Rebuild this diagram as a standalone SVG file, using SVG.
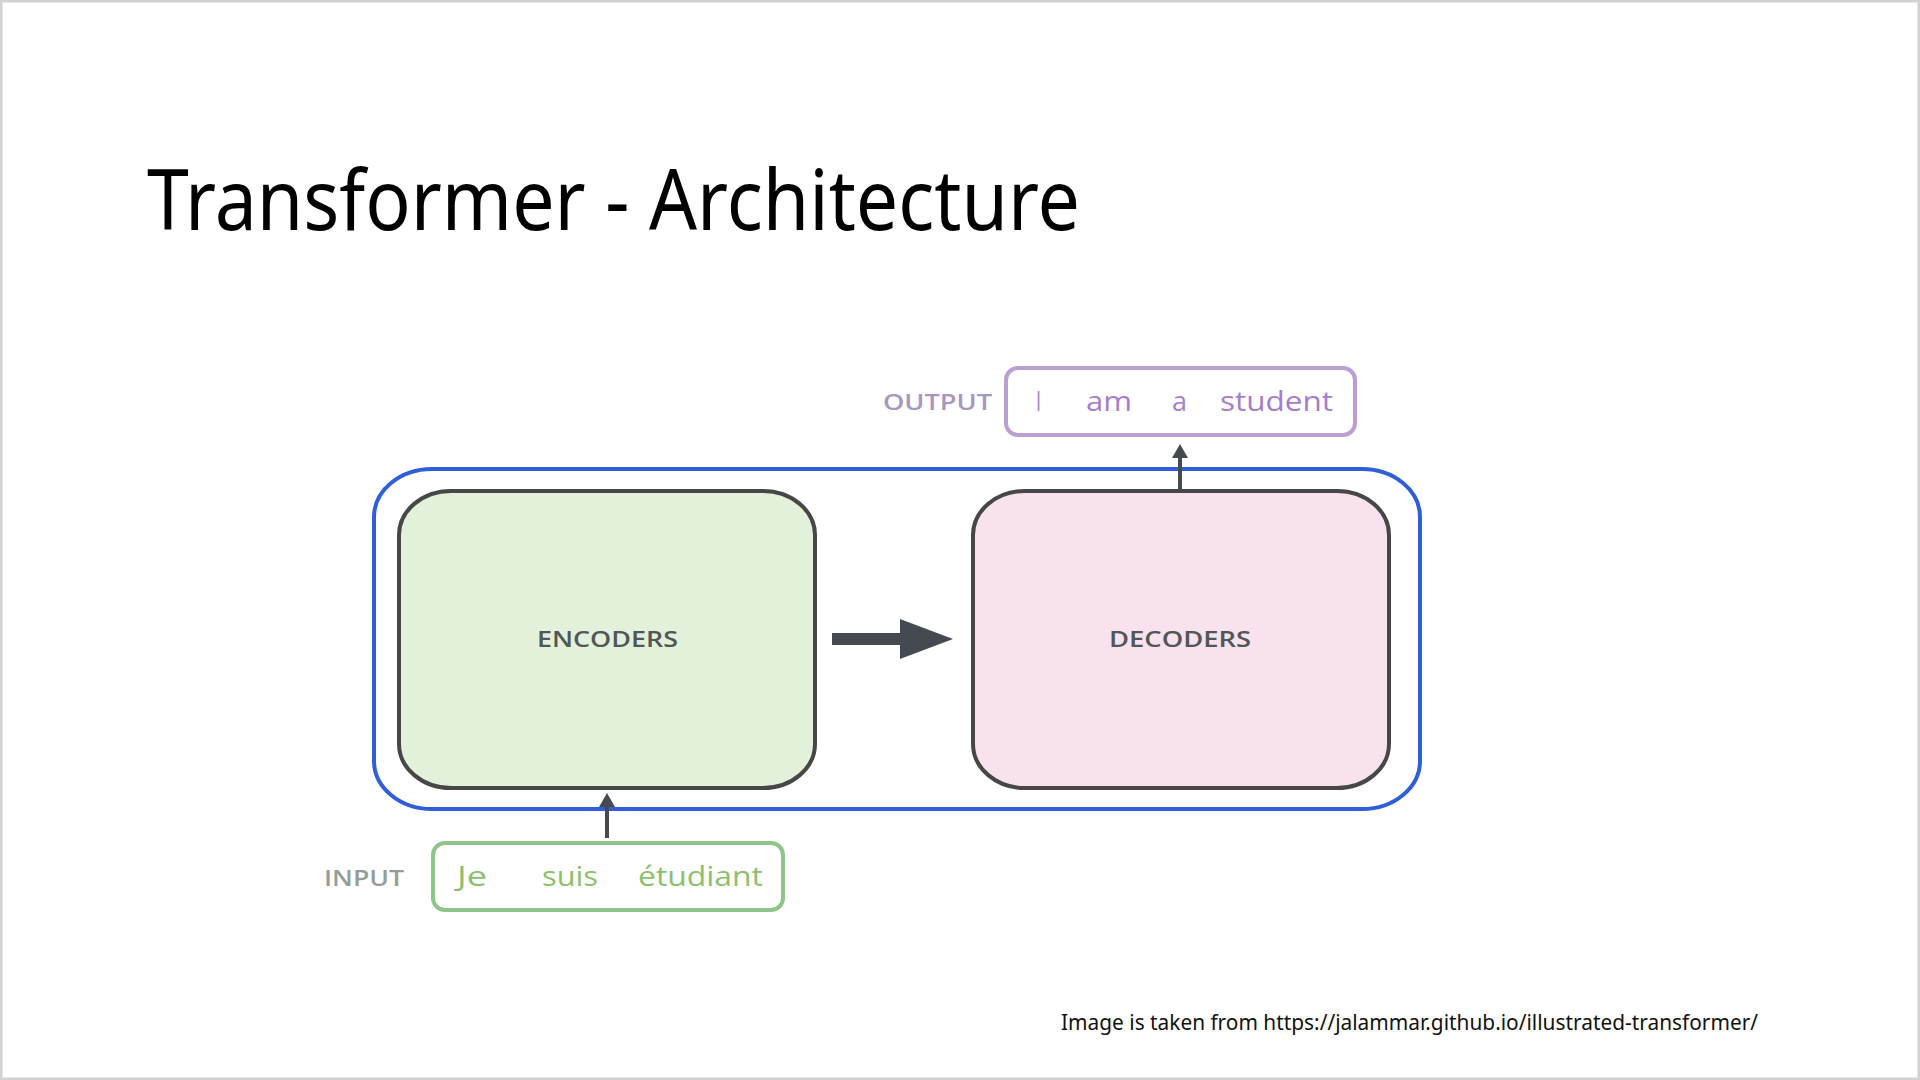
<svg xmlns="http://www.w3.org/2000/svg" width="1920" height="1080" viewBox="0 0 1920 1080">
  <style>
    .title { font-family: "Noto Sans", "Open Sans", sans-serif; font-size: 84px; fill: #000; }
    .note { font-family: "Noto Sans", "Open Sans", sans-serif; font-size: 21px; fill: #111; }
    .block { stroke: #474747; stroke-width: 4; }
    .blk-label { font-family: "Open Sans", "Noto Sans", sans-serif; font-weight: 600; font-size: 22px; fill: #505756; }
    .side-label { font-family: "Open Sans", "Noto Sans", sans-serif; font-weight: 600; font-size: 22px; }
    .word { font-family: "Open Sans", "Noto Sans", sans-serif; font-size: 27px; }
    .conn { stroke: #454a50; fill: none; }
  </style>
  <defs>
    <marker id="smallhead" markerUnits="userSpaceOnUse" markerWidth="14" markerHeight="16" refX="10" refY="8" orient="auto" viewBox="0 0 14 16">
      <path d="M0,0 L14,8 L0,16 z" fill="#454a50"/>
    </marker>
    <marker id="bighead" markerUnits="userSpaceOnUse" markerWidth="53" markerHeight="40" refX="5" refY="20" orient="auto" viewBox="0 0 53 40">
      <path d="M0,0 L53,20 L0,40 z" fill="#454a50"/>
    </marker>
  </defs>

  <rect x="0" y="0" width="1920" height="1080" fill="#ffffff"/>
  <rect x="1" y="1" width="1918" height="1078" fill="none" stroke="#d2d2d2" stroke-width="3"/>

  <text class="title" x="147" y="230" textLength="933" lengthAdjust="spacingAndGlyphs">Transformer - Architecture</text>

  <g id="container">
    <rect x="374" y="469" width="1046" height="340" rx="58" ry="48" fill="none" stroke="#2f5fd8" stroke-width="4"/>
  </g>

  <g id="encoders">
    <rect class="block" x="399" y="491" width="416" height="297" rx="52" ry="44" fill="#e3f1db"/>
    <text class="blk-label" x="537" y="647" textLength="141" lengthAdjust="spacingAndGlyphs">ENCODERS</text>
  </g>

  <g id="decoders">
    <rect class="block" x="973" y="491" width="416" height="297" rx="52" ry="44" fill="#f7e2ee"/>
    <text class="blk-label" x="1109" y="647" textLength="142" lengthAdjust="spacingAndGlyphs">DECODERS</text>
  </g>

  <g id="output">
    <rect x="1006" y="368" width="349" height="67" rx="12" ry="12" fill="#ffffff" stroke="#bb9fd3" stroke-width="4"/>
    <text class="side-label" x="883" y="410" textLength="109" lengthAdjust="spacingAndGlyphs" fill="#a796bf">OUTPUT</text>
    <g class="word" fill="#a57ccf">
      <text x="1036" y="411" textLength="5" lengthAdjust="spacingAndGlyphs">I</text>
      <text x="1086" y="411" textLength="46" lengthAdjust="spacingAndGlyphs">am</text>
      <text x="1172" y="411" textLength="15" lengthAdjust="spacingAndGlyphs">a</text>
      <text x="1220" y="411" textLength="113" lengthAdjust="spacingAndGlyphs">student</text>
    </g>
  </g>

  <g id="input">
    <rect x="433" y="843" width="350" height="67" rx="12" ry="12" fill="#ffffff" stroke="#8fc58a" stroke-width="4"/>
    <text class="side-label" x="324" y="886" textLength="80" lengthAdjust="spacingAndGlyphs" fill="#959d99">INPUT</text>
    <g class="word" fill="#8cc06c">
      <text x="457" y="886" textLength="30" lengthAdjust="spacingAndGlyphs">Je</text>
      <text x="542" y="886" textLength="56" lengthAdjust="spacingAndGlyphs">suis</text>
      <text x="638" y="886" textLength="125" lengthAdjust="spacingAndGlyphs">étudiant</text>
    </g>
  </g>

  <g id="connectors">
    <line class="conn" x1="607" y1="838" x2="607" y2="797" stroke-width="4" marker-end="url(#smallhead)"/>
    <line class="conn" x1="1180" y1="490" x2="1180" y2="448" stroke-width="4" marker-end="url(#smallhead)"/>
    <line class="conn" x1="832" y1="639" x2="905" y2="639" stroke-width="12" marker-end="url(#bighead)"/>
  </g>

  <text class="note" x="1061" y="1030" textLength="697" lengthAdjust="spacingAndGlyphs">Image is taken from https://jalammar.github.io/illustrated-transformer/</text>
</svg>
